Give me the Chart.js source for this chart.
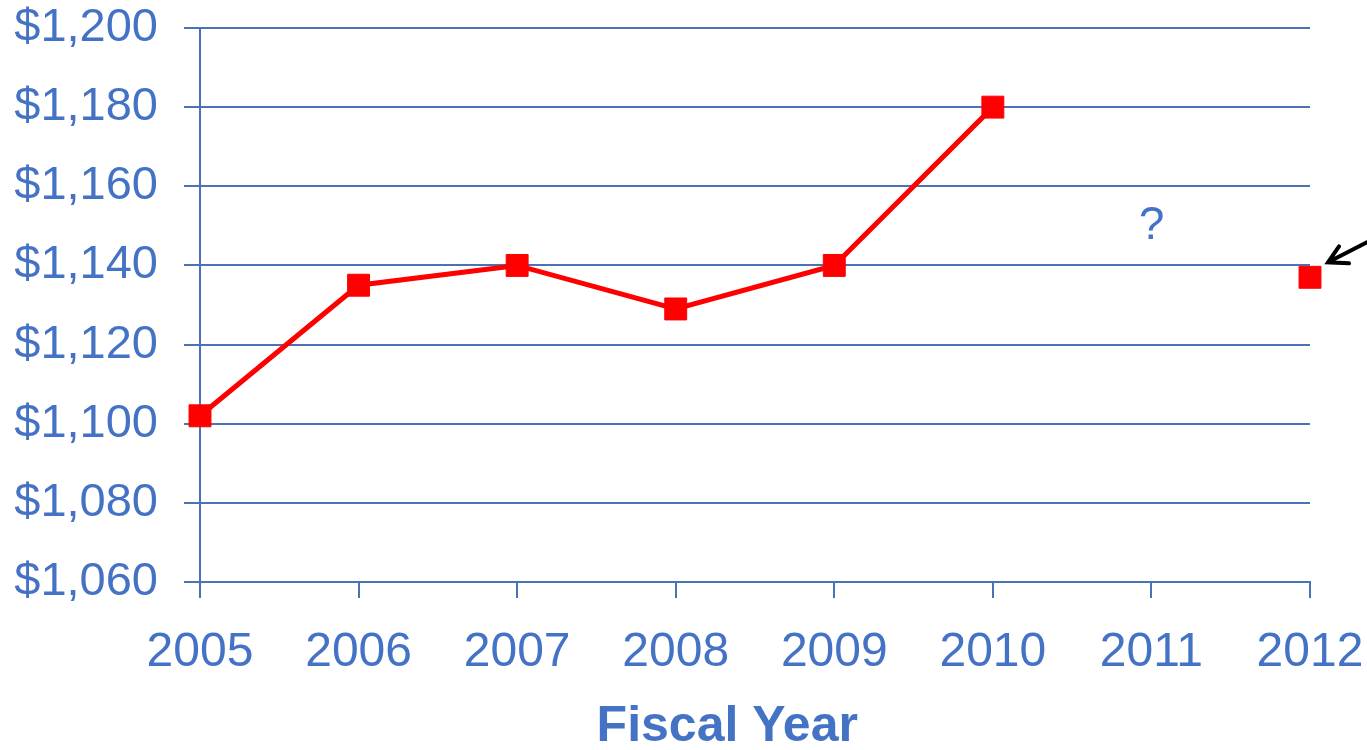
<!DOCTYPE html>
<html>
<head>
<meta charset="utf-8">
<script src="https://cdn.jsdelivr.net/npm/chart.js@4"></script>
<style>
    body { margin: 0; background: #ffffff; }
    #wrap { width: 1367px; height: 750px; position: relative; }
</style>
</head>
<body>
<div id="wrap"><canvas id="costChart"></canvas></div>
<script>
let years = ["2005", "2006", "2007", "2008", "2009", "2010", "2011", "2012"];
let costs = [1102, 1135, 1140, 1129, 1140, 1180, null, 1137];
let yMin = 1060;
let yMax = 1200;
let yStep = 20;
let axisTitle = "Fiscal Year";
let unknownLabel = "?";
let unknownYear = "2011";
let unknownAt = 1150;

let blue = "#4472c4";
let gridBlue = "#4a72b8";
let fontName = "'Liberation Sans', Arial, sans-serif";

// extra text + arrow drawn on top
let extrasPlugin = {
    id: 'extras',
    afterDraw: function (chart) {
        let ctx = chart.ctx;
        let xs = chart.scales.x;
        let ys = chart.scales.y;
        let area = chart.chartArea;
        ctx.save();

        ctx.fillStyle = blue;
        ctx.font = "bold 50px " + fontName;
        ctx.textAlign = "center";
        ctx.textBaseline = "middle";
        ctx.fillText(axisTitle, area.left + (area.right - area.left) * 0.475, 727);

        ctx.font = "46px " + fontName;
        ctx.fillText(unknownLabel, xs.getPixelForValue(years.indexOf(unknownYear)), ys.getPixelForValue(unknownAt));

        // arrow pointing at the last point
        let px = xs.getPixelForValue(years.length - 1);
        let py = ys.getPixelForValue(costs[costs.length - 1]);
        let tipX = px + 18;
        let tipY = py - 15;
        ctx.strokeStyle = "#000000";
        ctx.lineWidth = 4;
        ctx.lineCap = "round";
        ctx.beginPath();
        ctx.moveTo(tipX + 70, tipY - 36);
        ctx.lineTo(tipX, tipY);
        ctx.moveTo(tipX + 11, tipY - 16);
        ctx.lineTo(tipX, tipY);
        ctx.lineTo(tipX + 21, tipY + 1);
        ctx.stroke();
        ctx.restore();
    }
};

let chartCtx = document.getElementById('costChart');
let costChart = new Chart(chartCtx, {
    type: 'line',
    data: {
        labels: years,
        datasets: [{
            data: costs,
            borderColor: "#ff0000",
            backgroundColor: "#ff0000",
            borderWidth: 5,
            pointStyle: 'rect',
            pointRadius: 15.5,
            pointBorderWidth: 1,
            pointBackgroundColor: "#ff0000",
            pointBorderColor: "#ff0000",
            spanGaps: false,
            tension: 0
        }]
    },
    options: {
        responsive: true,
        maintainAspectRatio: false,
        animation: false,
        layout: {
            padding: { top: 28, right: 57, left: 0, bottom: 0 }
        },
        plugins: {
            legend: { display: false },
            tooltip: { enabled: false }
        },
        scales: {
            x: {
                offset: false,
                grid: {
                    drawOnChartArea: false,
                    drawTicks: true,
                    tickLength: 16,
                    color: gridBlue,
                    lineWidth: 2
                },
                border: { color: gridBlue, width: 2 },
                ticks: {
                    color: blue,
                    padding: 26,
                    maxRotation: 0,
                    font: { family: fontName, size: 48 }
                },
                afterFit: function (scale) {
                    scale.height = 168;
                    scale.paddingLeft = 0;
                    scale.paddingRight = 0;
                }
            },
            y: {
                min: yMin,
                max: yMax,
                grid: {
                    drawTicks: true,
                    tickLength: 16,
                    color: gridBlue,
                    lineWidth: 2
                },
                border: { color: gridBlue, width: 2 },
                ticks: {
                    stepSize: yStep,
                    color: blue,
                    padding: 26,
                    font: { family: fontName, size: 47 },
                    callback: function (v) { return '$' + v.toLocaleString('en-US'); }
                },
                afterFit: function (scale) {
                    scale.width = 200;
                    scale.paddingTop = 0;
                    scale.paddingBottom = 0;
                }
            }
        }
    },
    plugins: [extrasPlugin]
});
</script>
</body>
</html>
